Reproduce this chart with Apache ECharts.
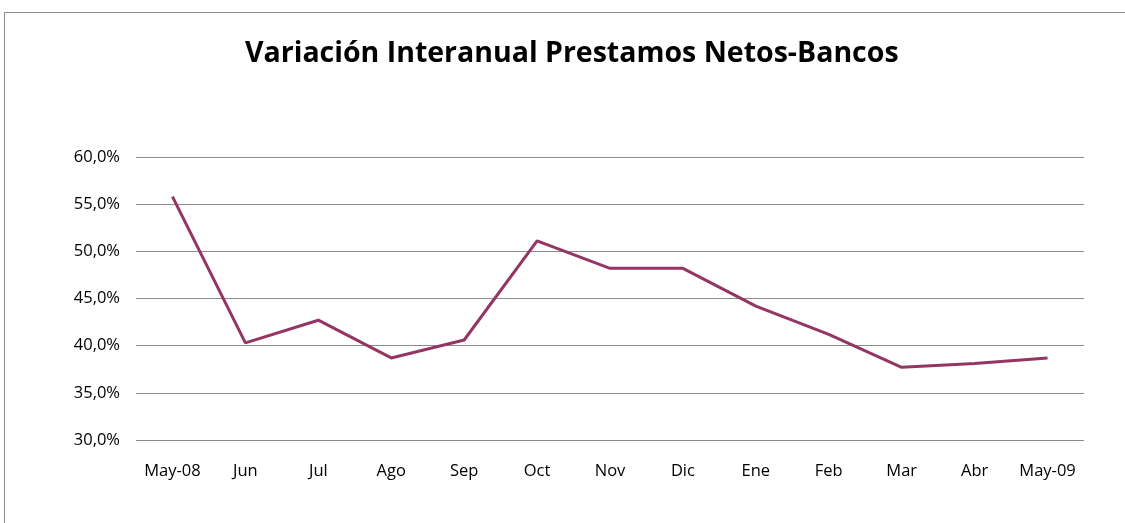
<!DOCTYPE html>
<html>
<head>
<meta charset="utf-8">
<script src="https://cdn.jsdelivr.net/npm/echarts@6/dist/echarts.min.js"></script>
<style>
  html, body { margin: 0; padding: 0; background: #fff; }
  #frame { position: absolute; left: 4px; top: 12px; width: 1140px; height: 530px;
           border: 1.5px solid #8c8c8c; box-sizing: border-box; }
  #main { position: absolute; left: 0; top: 0; width: 1125px; height: 523px; }
</style>
</head>
<body>
<div id="frame"></div>
<div id="main"></div>
<script>
// categorias y valores (variacion interanual, %)
var months = ['May-08', 'Jun', 'Jul', 'Ago', 'Sep', 'Oct', 'Nov', 'Dic', 'Ene', 'Feb', 'Mar', 'Abr', 'May-09'];
var variacion = [55.8, 40.3, 42.7, 38.7, 40.6, 51.1, 48.2, 48.2, 44.2, 41.2, 37.7, 38.1, 38.7];
var yTicks = [30, 35, 40, 45, 50, 55, 60];

var myChart = echarts.init(document.getElementById('main'));
var font = 'Open Sans, Noto Sans, sans-serif';

var option = {
    animation: false,
    title: {
        text: 'Variación Interanual Prestamos Netos-Bancos',
        left: 240,
        top: 34,
        textStyle: { fontFamily: font, fontSize: 28.5, fontWeight: 'bold', color: '#000' }
    },
    grid: { left: 136, right: 41, top: 157, bottom: 83 },
    xAxis: {
        type: 'category',
        data: months,
        boundaryGap: true,
        axisLine: { show: false },
        axisTick: { show: false },
        axisLabel: { fontFamily: font, fontSize: 16.5, color: '#000', margin: 23, interval: 0 }
    },
    yAxis: {
        type: 'value',
        min: yTicks[0],
        max: yTicks[yTicks.length - 1],
        interval: 5,
        axisLine: { show: false },
        axisTick: { show: false },
        splitLine: { lineStyle: { color: '#8c8c8c', width: 1 } },
        axisLabel: {
            fontFamily: font, fontSize: 16.5, color: '#000', margin: 16,
            formatter: function (v) { return v.toFixed(1).replace('.', ',') + '%'; }
        }
    },
    series: [{
        type: 'line',
        data: variacion,
        symbol: 'none',
        lineStyle: { color: '#953563', width: 3 }
    }]
};

myChart.setOption(option);
</script>
</body>
</html>
